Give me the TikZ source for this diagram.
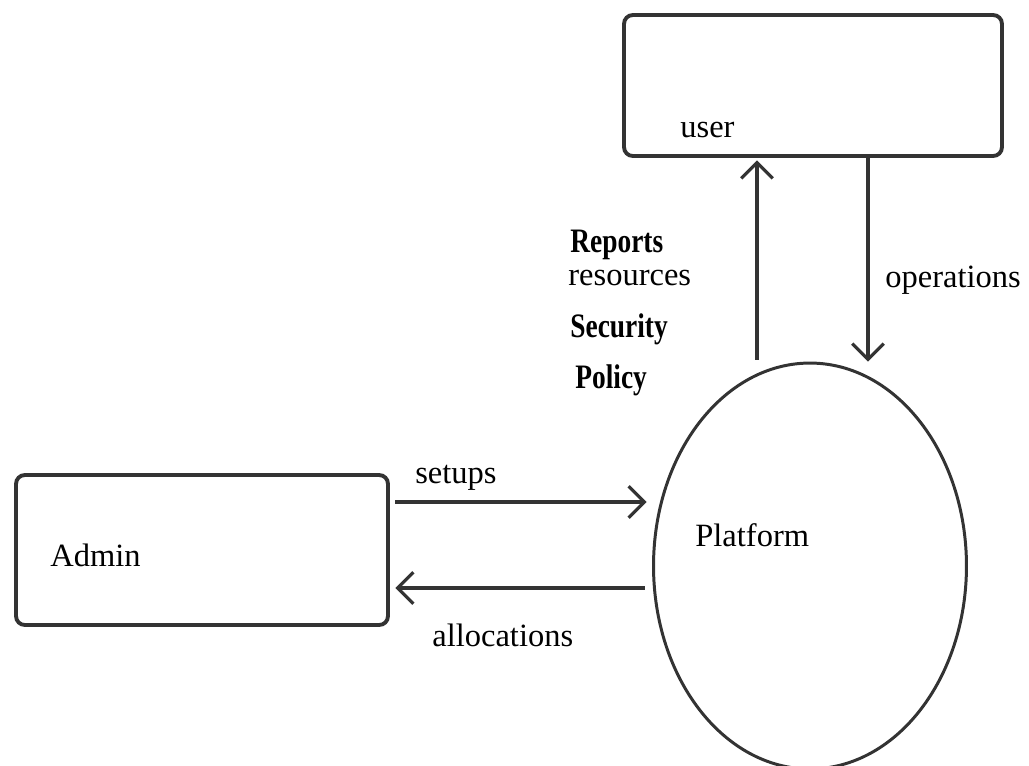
\documentclass[tikz,border=0pt]{standalone}
\usepackage{fontspec}
\setmainfont{Liberation Serif}
\newfontfamily\narrowfont[FakeStretch=0.8]{Liberation Serif}
\usetikzlibrary{shapes.geometric,arrows.meta}
\definecolor{ink}{RGB}{51,51,51}
\newcommand{\drawbox}{\node[draw=ink,line width=2.2pt,rounded corners=5pt,rectangle,inner sep=0]}
\newcommand{\drawellipse}{\node[draw=ink,line width=1.7pt,ellipse,inner sep=0]}
\newcommand{\drawdummy}{\node[minimum size=0,inner sep=0]}
\newcommand{\drawlabel}{\node[anchor=base west,inner sep=0,font=\fontsize{18.5}{20}\selectfont]}
\newcommand{\drawlabelbold}{\node[anchor=base west,inner sep=0,font=\narrowfont\bfseries\fontsize{19.5}{21}\selectfont]}
\newcommand{\arrink}{\draw[line width=1.8pt, color=ink, -{Straight Barb[length=9pt,width=18pt]}]}

\begin{document}
\begin{tikzpicture}[x=0.02cm, y=-0.02cm]
\useasboundingbox (0,0) rectangle (1029,765);
%boxes and the process
\drawbox[minimum width=7.56cm, minimum height=2.82cm] (user) at (813,85.5) {};
\drawbox[minimum width=7.44cm, minimum height=3.0cm] (admin) at (202,550) {};
\drawellipse[minimum width=6.26cm, minimum height=8.12cm] (plat) at (810,566) {};

\drawlabel (userTxt) at (680,137) {user};
\drawlabel (adminTxt) at (50,566) {Admin};
\drawlabel (platTxt) at (695,546) {Platform};

%arrow ends
\drawdummy (platUp) at (757,360) {};
\drawdummy (userUp) at (757,160) {};
\drawdummy (userDown) at (868,158) {};
\drawdummy (platDown) at (868,362) {};
\drawdummy (adminOut) at (395,502) {};
\drawdummy (platIn) at (647,502) {};
\drawdummy (platOut) at (645,588) {};
\drawdummy (adminIn) at (395,588) {};

\arrink (platUp) to (userUp);
\arrink (userDown) to (platDown);
\arrink (adminOut) to (platIn);
\arrink (platOut) to (adminIn);

%flow labels
\drawlabelbold (reports) at (570,252) {Reports};
\drawlabel (resources) at (568,285) {resources};
\drawlabelbold (security) at (570,337) {Security};
\drawlabelbold (policy) at (575,388) {Policy};
\drawlabel (operations) at (885,287) {operations};
\drawlabel (setups) at (415,483) {setups};
\drawlabel (allocations) at (432,646) {allocations};
\end{tikzpicture}
\end{document}
